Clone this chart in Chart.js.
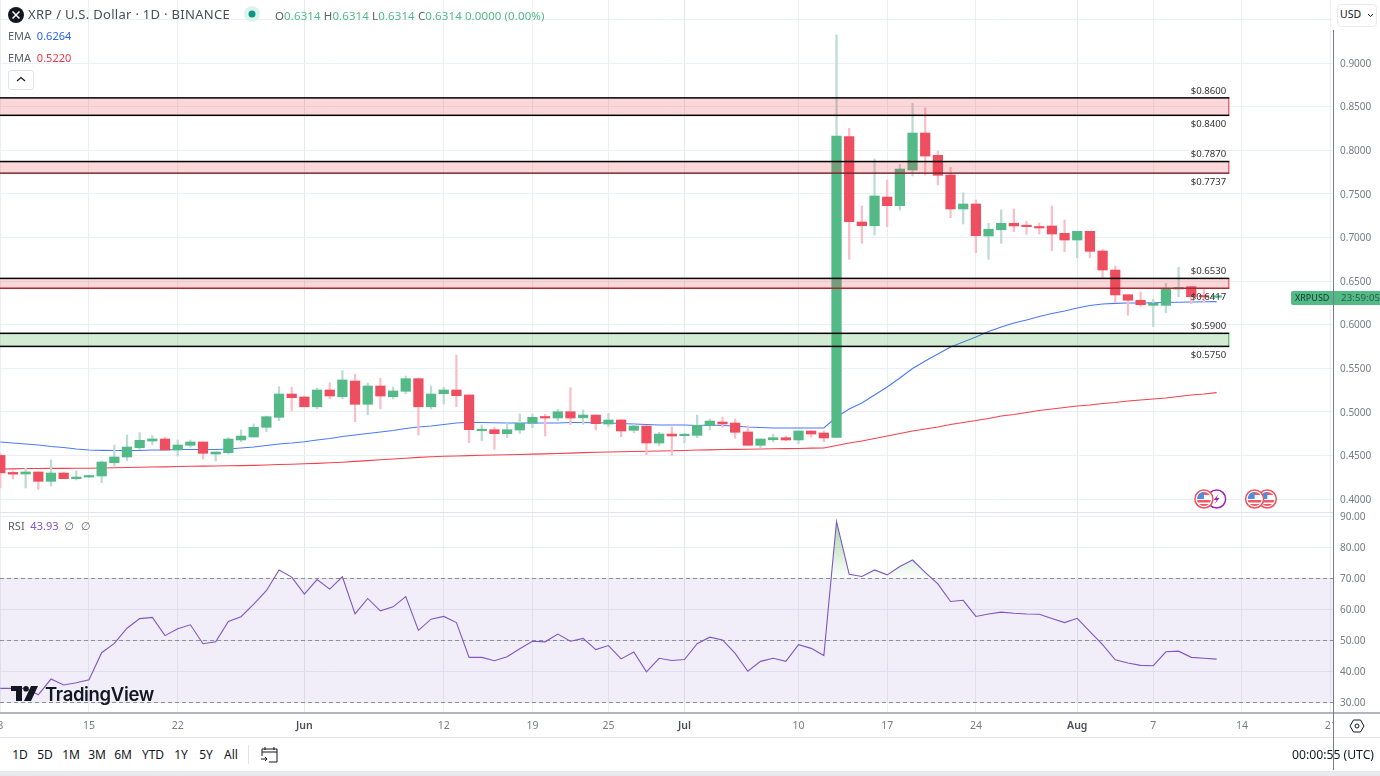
<!DOCTYPE html>
<html><head><meta charset="utf-8">
<script src="https://cdn.jsdelivr.net/npm/chart.js@4"></script>
<style>
html,body{margin:0;padding:0;background:#fff;width:1380px;height:776px;overflow:hidden;font-family:"Noto Sans",sans-serif;}
canvas{position:absolute;left:0;display:block;}
.t{position:absolute;white-space:nowrap;line-height:1;}
.box{position:absolute;}
</style></head><body>
<canvas id="price" width="1380" height="512" style="top:0"></canvas>
<canvas id="rsi" width="1380" height="232" style="top:505px"></canvas>

<div class="box" style="left:0;top:512px;width:1333px;height:1px;background:#e0e3eb"></div>
<div class="box" style="left:1333px;top:712px;width:47px;height:25px;background:#fff"></div>
<div class="box" style="left:0;top:712px;width:1380px;height:2px;background:#b2b5be"></div>
<div class="box" style="left:0;top:737px;width:1380px;height:1px;background:#e0e3eb"></div>
<div class="box" style="left:1333px;top:30px;width:1px;height:740px;background:#787b86"></div>
<div class="box" style="left:0;top:771px;width:1380px;height:5px;background:#e9eaee"></div>

<!-- header -->
<svg class="box" style="left:8px;top:7px" width="16" height="16" viewBox="0 0 16 16"><circle cx="8" cy="8" r="8" fill="#131722"/><path d="M4.5 4.5L11.5 11.5M11.5 4.5L4.5 11.5" stroke="#fff" stroke-width="1.5"/></svg>
<div class="t" style="left:28px;top:8px;font-size:13px;color:#4a4d57;letter-spacing:.3px">XRP / U.S. Dollar · 1D · BINANCE</div>
<svg class="box" style="left:244px;top:6px" width="16" height="16"><circle cx="8" cy="8" r="8" fill="#dff3ee"/><circle cx="8" cy="8" r="3.5" fill="#089981"/></svg>
<div class="t" id="ohlc" style="left:275px;top:10px;font-size:11.5px;letter-spacing:.1px;color:#53b987"></div>
<div class="t" style="left:8px;top:30px;font-size:11px;color:#5d606b;background:#fff">EMA&nbsp; <span style="color:#2962ff">0.6264</span></div>
<div class="t" style="left:8px;top:52px;font-size:11px;color:#5d606b;background:#fff">EMA&nbsp; <span style="color:#f23645">0.5220</span></div>
<div class="box" style="left:8px;top:70px;width:24px;height:18px;border:1px solid #e0e3eb;border-radius:3px;background:#fff"></div>
<svg class="box" style="left:16px;top:76px" width="10" height="6"><path d="M1 5L5 1.5L9 5" fill="none" stroke="#131722" stroke-width="1.2"/></svg>
<div class="t" style="left:8px;top:520px;font-size:11px;color:#5d606b;background:#fff;padding-right:3px">RSI&nbsp;&nbsp;<span style="color:#7e57c2">43.93</span>&nbsp; <span style="font-family:'DejaVu Sans'">∅&nbsp; ∅</span></div>

<!-- USD button -->
<div class="box" style="left:1337px;top:4px;width:38px;height:21px;border:1px solid #e8eaf0;border-radius:4px;background:#fff"></div>
<div class="t" style="left:1340px;top:9px;font-size:10.5px;color:#131722">USD</div>
<svg class="box" style="left:1367px;top:13px" width="7" height="5"><path d="M1 1L3.5 3.5L6 1" fill="none" stroke="#131722"/></svg>

<!-- price tag -->
<div class="box" style="left:1291px;top:291px;width:42px;height:14px;background:#53b987;border-radius:2px 0 0 2px"></div>
<div class="box" style="left:1334px;top:291px;width:46px;height:14px;background:#53b987"></div>
<div class="t" style="left:1295px;top:293px;font-size:9px;color:#0f3b2a">XRPUSD</div>
<div class="t" style="left:1341px;top:293px;font-size:9.7px;letter-spacing:.1px;color:#2a5f47">23:59:05</div>

<!-- logo -->
<svg class="box" style="left:11px;top:686px" width="27" height="15" viewBox="0 0 27 15"><path d="M0 0H11V15H5V5H0Z" fill="#131722"/><circle cx="15" cy="2.8" r="2.8" fill="#131722"/><path d="M20 0H27L20 15H13Z" fill="#131722"/></svg>
<div class="t" style="left:45px;top:685px;font-size:18.5px;font-weight:600;color:#131722;font-family:'Inter',sans-serif;letter-spacing:-.35px">TradingView</div>

<!-- toolbar -->
<div id="ranges"></div>
<div class="box" style="left:248px;top:745px;width:1px;height:19px;background:#e0e3eb"></div>
<svg class="box" style="left:261px;top:746px" width="17" height="17" viewBox="0 0 17 17" fill="none" stroke="#131722" stroke-width="1"><path d="M1 10V3H16V16H8M1 6H16M4 1V4M13 1V4M0 13H6M4 11L6 13L4 15"/></svg>
<div class="t" style="right:6px;top:749px;font-size:12.2px;color:#131722">00:00:55 (UTC)</div>
<svg class="box" style="left:1349px;top:718px" width="16" height="16" viewBox="0 0 16 16" fill="none" stroke="#131722" stroke-width="1"><path d="M4.5 2H11.5L15 8L11.5 14H4.5L1 8Z"/><circle cx="8" cy="8" r="2"/></svg>

<script>
const opens=[.4500,.4305,.4287,.4310,.4203,.4298,.4233,.4252,.4264,.4416,
.4482,.4588,.4665,.4688,.4562,.4616,.4654,.4516,.4531,.4677,
.4711,.4822,.4937,.5204,.5170,.5058,.5250,.5173,.5353,.5086,
.5296,.5173,.5235,.5380,.5058,.5208,.5250,.5193,.4783,.4795,
.4749,.4791,.4868,.4940,.4929,.5001,.4932,.4963,.4860,.4906,
.4788,.4837,.4642,.4745,.4726,.4730,.4841,.4883,.4871,.4769,
.4616,.4680,.4703,.4677,.4780,.4757,.4707,.8155,.7177,.7134,
.7463,.7364,.7773,.8197,.7941,.7716,.7326,.7383,.7016,.7088,
.7162,.7134,.7119,.7131,.7047,.6970,.7070,.6844,.6626,.6343,
.6279,.6221,.6221,.6408,.6435,.6328,.6314];
const closes=[.4300,.4285,.4310,.4203,.4298,.4233,.4252,.4267,.4424,.4482,
.4596,.4673,.4688,.4562,.4619,.4654,.4524,.4539,.4688,.4722,
.4822,.4944,.5204,.5162,.5058,.5250,.5181,.5365,.5086,.5296,
.5181,.5239,.5380,.5058,.5204,.5250,.5185,.4795,.4799,.4749,
.4795,.4868,.4937,.4929,.5001,.4929,.4963,.4864,.4906,.4780,
.4837,.4642,.4745,.4722,.4734,.4845,.4894,.4860,.4765,.4616,
.4688,.4703,.4677,.4780,.4745,.4700,.8163,.7180,.7134,.7475,
.7364,.7784,.8197,.7933,.7712,.7326,.7383,.7020,.7093,.7162,
.7131,.7123,.7108,.7039,.6970,.7070,.6840,.6626,.6340,.6279,
.6228,.6244,.6408,.6412,.6320,.6317,.6314];
const highs=[.4520,.4320,.4352,.4310,.4447,.4310,.4321,.4275,.4436,.4619,
.4734,.4760,.4726,.4708,.4677,.4677,.4654,.4539,.4703,.4791,
.4860,.4952,.5288,.5281,.5180,.5273,.5334,.5471,.5433,.5330,
.5384,.5284,.5410,.5388,.5296,.5281,.5651,.5193,.4849,.4822,
.4868,.4975,.4975,.4971,.5029,.5276,.5021,.4963,.4983,.4914,
.4857,.4837,.4765,.4826,.4753,.4963,.4917,.4940,.4917,.4840,
.4688,.4742,.4722,.4780,.4780,.4780,.9321,.8251,.7360,.7899,
.7658,.7838,.8538,.8487,.7991,.7804,.7513,.7429,.7162,.7314,
.7326,.7185,.7165,.7360,.7200,.7070,.7070,.6864,.6672,.6343,
.6374,.6290,.6474,.6658,.6435,.6405,.6314];
const lows=[.4126,.4230,.4126,.4111,.4149,.4233,.4218,.4244,.4187,.4378,
.4439,.4570,.4623,.4562,.4493,.4593,.4459,.4436,.4516,.4657,
.4711,.4772,.4898,.5009,.5055,.5035,.5147,.5150,.4886,.4967,
.5032,.5147,.5208,.4734,.5032,.5089,.5058,.4646,.4669,.4570,
.4703,.4753,.4818,.4723,.4898,.4852,.4857,.4791,.4829,.4714,
.4760,.4508,.4611,.4501,.4645,.4703,.4791,.4822,.4696,.4616,
.4585,.4654,.4669,.4634,.4708,.4657,.4707,.6749,.6932,.7028,
.7123,.7314,.7704,.7716,.7601,.7226,.7154,.6825,.6749,.6932,
.7065,.7035,.7039,.6848,.6836,.6767,.6767,.6542,.6251,.6107,
.6205,.5976,.6136,.6320,.6240,.6259,.6314];
const emaBlue=[.4654,.4642,.4631,.4619,.4602,.4591,.4573,.4562,.4558,.4556,
.4556,.4556,.4562,.4562,.4568,.4568,.4568,.4568,.4573,.4585,
.4596,.4614,.4631,.4642,.4657,.4677,.4694,.4717,.4734,.4751,
.4768,.4786,.4808,.4826,.4837,.4854,.4872,.4880,.4877,.4875,
.4872,.4872,.4872,.4872,.4872,.4877,.4877,.4875,.4872,.4866,
.4860,.4854,.4849,.4849,.4849,.4843,.4849,.4843,.4837,.4826,
.4820,.4814,.4814,.4814,.4814,.4814,.4940,.5032,.5101,.5193,
.5284,.5388,.5497,.5583,.5663,.5743,.5800,.5858,.5921,.5973,
.6018,.6053,.6093,.6127,.6156,.6190,.6219,.6236,.6244,.6248,
.6248,.6250,.6253,.6256,.6259,.6262,.6264];
const emaRed=[.4344,.4346,.4349,.4350,.4351,.4351,.4352,.4352,.4356,.4358,
.4361,.4364,.4367,.4369,.4373,.4375,.4377,.4378,.4381,.4383,
.4386,.4390,.4395,.4399,.4404,.4409,.4415,.4422,.4431,.4440,
.4450,.4459,.4468,.4477,.4484,.4491,.4494,.4498,.4501,.4505,
.4508,.4511,.4515,.4518,.4522,.4526,.4532,.4536,.4539,.4542,
.4545,.4547,.4550,.4554,.4557,.4562,.4564,.4567,.4569,.4571,
.4573,.4576,.4578,.4580,.4583,.4585,.4614,.4642,.4665,.4694,
.4722,.4751,.4780,.4803,.4826,.4854,.4877,.4900,.4923,.4952,
.4969,.4992,.5015,.5032,.5049,.5067,.5078,.5095,.5107,.5124,
.5135,.5147,.5158,.5175,.5193,.5204,.5220];
const rsiValues=[34.5,34.5,34.5,32.4,37.5,35.6,36.3,37.3,46.0,49.0,
53.9,57.0,57.4,51.5,53.7,55.0,48.9,49.5,56.1,57.6,
61.7,66.0,72.7,70.4,64.9,69.6,66.5,70.5,58.5,63.5,
59.5,60.8,64.1,53.2,56.8,57.7,55.7,44.5,44.5,43.4,
44.7,47.3,49.7,49.5,52.0,49.7,50.6,47.0,48.3,44.0,
46.2,39.8,44.2,43.5,43.8,48.9,51.0,50.1,45.8,40.0,
43.2,44.2,43.2,48.6,47.4,45.1,88.3,71.3,70.6,72.7,
71.1,73.8,75.9,71.9,68.2,62.5,62.9,57.7,58.5,59.1,
58.7,58.5,58.4,57.0,55.7,57.1,52.8,48.6,43.7,42.7,
41.9,41.8,46.3,46.5,44.5,44.2,43.93];

const tickDays=[0,7,14,24,35,42,48,54,63,70,77,85,91,98,105];
const tickLabels=['8','15','22','Jun','12','19','25','Jul','10','17','24','Aug','7','14','21'];
const monthLabels=['Jun','Jul','Aug'];
const priceTicks=[.40,.45,.50,.55,.60,.65,.70,.75,.80,.85,.90,.95];
const hiddenPriceTicks=[.95];
const rsiTicks=[30,40,50,60,70,80,90];
const rsiDashed=[70,50,30];
const bandTops=[.86,.787,.653,.59];
const bandBottoms=[.84,.7737,.6417,.575];
const bandKinds=['res','res','res','sup'];
const bandBottomColors=['#000','#7a2a30','#a82c36','#000'];
const bandEndDay=97;
const eventDays=[100,99,96,95];
const eventKinds=['flag','flag','bolt','flag'];
const eventPrice=.4;
const rangeLabels=['1D','5D','1M','3M','6M','YTD','1Y','5Y','All'];
const rangeCenters=[20,45,71,97,123,153,181,206,231];

const UP='#53b987',DOWN='#ee4f60',UPW='#bcdad6',DOWNW='#fabfc6';
const FONT='"Noto Sans",sans-serif';
const days=opens.map((_,i)=>i);

document.getElementById('ohlc').innerHTML=[['O','0.6314'],['H','0.6314'],['L','0.6314'],['C','0.6314']].map(p=>'<span style="color:#5d606b">'+p[0]+'</span>'+p[1]).join(' ')+' 0.0000 (0.00%)';
document.getElementById('ranges').innerHTML=rangeLabels.map((l,i)=>'<div class="t" style="left:'+(rangeCenters[i]-15)+'px;width:30px;text-align:center;top:749px;font-size:12px;color:#131722">'+l+'</div>').join('');

function zeroPad(a){a.paddingLeft=a.paddingRight=a.paddingTop=a.paddingBottom=0;}
const xMin=-0.024,xMax=105.186;
function xScale(showLabels){
  return {type:'linear',offset:false,min:xMin,max:xMax,
    grid:{offset:false,drawTicks:false,color:c=>monthLabels.includes(tickLabels[tickDays.indexOf(c.tick&&c.tick.value)])?'#e2e9ef':'#e9eff4',lineWidth:1},
    border:{display:false},
    afterBuildTicks:a=>{a.ticks=tickDays.map(v=>({value:v}));},
    afterFit:a=>{a.height=showLabels?25:0;zeroPad(a);},
    ticks:{display:showLabels,autoSkip:false,maxRotation:0,padding:8,
      callback:v=>tickLabels[tickDays.indexOf(v)],
      font:c=>({family:FONT,size:10.5,weight:c.tick&&monthLabels.includes(tickLabels[tickDays.indexOf(c.tick.value)])?'600':'400'}),
      color:c=>c.tick&&monthLabels.includes(tickLabels[tickDays.indexOf(c.tick.value)])?'#4a4d57':'#787b86'}};
}
function yAxisBase(){return {position:'right',border:{display:false},
  afterFit:a=>{a.width=47;zeroPad(a);}};}

const overlay={id:'overlay',afterDatasetsDraw(ch){
  const {ctx,scales:{x,y}}=ch;
  const xr=x.getPixelForValue(bandEndDay);
  ctx.save();
  bandTops.forEach((top,i)=>{
    const yt=y.getPixelForValue(top),yb=y.getPixelForValue(bandBottoms[i]);
    const sup=bandKinds[i]==='sup';
    ctx.fillStyle=sup?'rgba(76,175,80,.25)':'rgba(242,54,69,.2)';
    ctx.fillRect(0,yt,xr,yb-yt);
    ctx.fillStyle=sup?'#4caf50':'#f23645';
    ctx.fillRect(xr-1,yt,1,yb-yt);
    ctx.fillStyle='#000';
    ctx.fillRect(0,yt-.75,xr,1.5);
    ctx.fillStyle=bandBottomColors[i];
    ctx.fillRect(0,yb-.75,xr,1.5);
    ctx.font='9.6px '+FONT;ctx.textAlign='right';ctx.textBaseline='middle';
    ctx.fillStyle='#333';
    ctx.fillText('$'+top.toFixed(4),xr-3,yt-7);
    ctx.fillText('$'+bandBottoms[i].toFixed(4),xr-3,yb+9);
  });
  eventDays.forEach((d,i)=>{
    const cx=x.getPixelForValue(d),cy=y.getPixelForValue(eventPrice);
    if(eventKinds[i]==='bolt'){
      ctx.beginPath();ctx.arc(cx,cy,9,0,7);ctx.fillStyle='#fff';ctx.fill();
      ctx.lineWidth=1.5;ctx.strokeStyle='#9c27b0';ctx.stroke();
      ctx.fillStyle='#9c27b0';ctx.beginPath();
      ctx.moveTo(cx+2,cy-5);ctx.lineTo(cx-3,cy+1);ctx.lineTo(cx,cy+1);ctx.lineTo(cx-2,cy+5);ctx.lineTo(cx+3,cy-1);ctx.lineTo(cx,cy-1);ctx.closePath();ctx.fill();
    }else{
      ctx.beginPath();ctx.arc(cx,cy,9,0,7);ctx.fillStyle='#fff';ctx.fill();
      ctx.lineWidth=1.5;ctx.strokeStyle='#f0525f';ctx.stroke();
      ctx.save();ctx.beginPath();ctx.arc(cx,cy,7,0,7);ctx.clip();
      ctx.fillStyle='#fff';ctx.fillRect(cx-7,cy-7,14,14);
      ctx.fillStyle='#ef5a66';ctx.fillRect(cx-7,cy-7,14,3);ctx.fillRect(cx-7,cy+1,14,2.5);ctx.fillRect(cx-7,cy+5,14,2);
      ctx.fillStyle='#4a90e2';ctx.fillRect(cx-7,cy-7,7,7);
      ctx.restore();
    }
  });
  ctx.restore();
}};

new Chart(document.getElementById('price'),{
  type:'bar',
  data:{datasets:[
    {label:'Body',data:days.map(i=>({x:i,y:[opens[i],closes[i]]})),barThickness:9.6,minBarLength:1.5,grouped:false,
      backgroundColor:days.map(i=>closes[i]>=opens[i]?UP:DOWN)},
    {label:'Wick',data:days.map(i=>({x:i,y:[lows[i],highs[i]]})),barThickness:1.6,grouped:false,
      backgroundColor:days.map(i=>closes[i]>=opens[i]?UPW:DOWNW)},
    {type:'line',label:'EMA 50',data:days.map(i=>({x:i,y:emaBlue[i]})),borderColor:'#4a7bf7',borderWidth:1.1,pointRadius:0,tension:0},
    {type:'line',label:'EMA 200',data:days.map(i=>({x:i,y:emaRed[i]})),borderColor:'#f2434f',borderWidth:1.1,pointRadius:0,tension:0}
  ]},
  options:{responsive:false,animation:false,devicePixelRatio:1,layout:{padding:0},
    plugins:{legend:{display:false},tooltip:{enabled:false},title:{display:false}},
    scales:{x:xScale(false),
      y:Object.assign(yAxisBase(),{min:.3851,max:.97225,
        grid:{drawTicks:false,color:'#eaf0f5',lineWidth:1},
        afterBuildTicks:a=>{a.ticks=priceTicks.map(v=>({value:v}));},
        ticks:{padding:7,labelOffset:1,autoSkip:false,color:'#787b86',font:{family:FONT,size:10},
          callback:v=>hiddenPriceTicks.includes(v)?'':v.toFixed(4)}})}},
  plugins:[overlay]
});

const rsiCtx=document.getElementById('rsi').getContext('2d');
const obGrad=rsiCtx.createLinearGradient(0,16,0,73);
obGrad.addColorStop(0,'rgba(76,175,80,.5)');
obGrad.addColorStop(1,'rgba(76,175,80,.02)');

const rsiBand={id:'rsiBand',beforeDatasetsDraw(ch){
  const {ctx,scales:{y},chartArea:ca}=ch;
  ctx.save();
  const y70=y.getPixelForValue(rsiDashed[0]),y30=y.getPixelForValue(rsiDashed[2]);
  ctx.fillStyle='rgba(126,87,194,.1)';
  ctx.fillRect(ca.left,y70,ca.right-ca.left,y30-y70);
  ctx.strokeStyle='rgba(120,123,134,.8)';ctx.lineWidth=1;ctx.setLineDash([4,3]);
  rsiDashed.forEach(v=>{const p=Math.round(y.getPixelForValue(v))+.5;ctx.beginPath();ctx.moveTo(ca.left,p);ctx.lineTo(ca.right,p);ctx.stroke();});
  ctx.restore();
}};

new Chart(rsiCtx,{
  type:'line',
  data:{datasets:[
    {label:'RSI',data:days.map(i=>({x:i,y:rsiValues[i]})),borderColor:'#7e57c2',borderWidth:1.1,pointRadius:0,tension:0,
      fill:{target:{value:70},above:obGrad,below:'rgba(0,0,0,0)'}}
  ]},
  options:{responsive:false,animation:false,devicePixelRatio:1,layout:{padding:{top:8}},
    plugins:{legend:{display:false},tooltip:{enabled:false},title:{display:false}},
    scales:{x:xScale(true),
      y:Object.assign(yAxisBase(),{min:26.87,max:91.06,
        grid:{drawTicks:false,color:'#e9eef5',lineWidth:1},
        afterBuildTicks:a=>{a.ticks=rsiTicks.map(v=>({value:v}));},
        ticks:{padding:7,labelOffset:1,autoSkip:false,color:'#787b86',font:{family:FONT,size:10},
          callback:v=>v.toFixed(2)}})}},
  plugins:[rsiBand]
});
</script>
</body></html>
